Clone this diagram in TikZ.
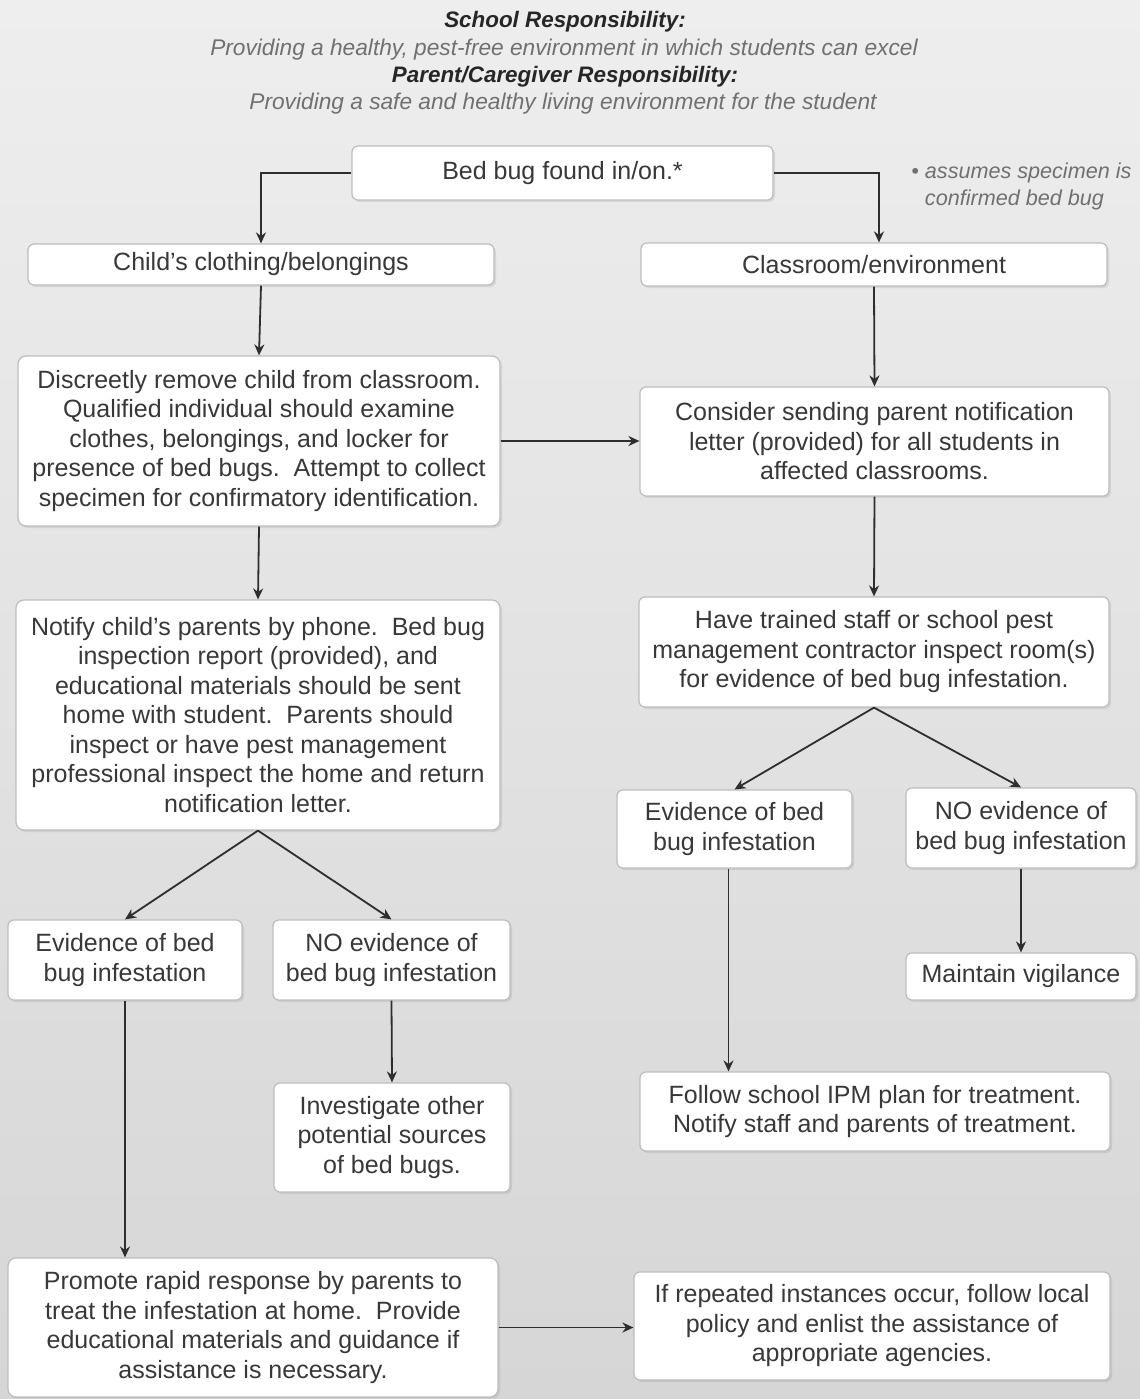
\documentclass[tikz,border=0pt]{standalone}
\usepackage{fontspec}
\setmainfont{Liberation Sans}
\usetikzlibrary{arrows.meta,shadows}
\definecolor{bgtop}{HTML}{EEEEEE}
\definecolor{bgbot}{HTML}{D6D6D6}
\definecolor{boxline}{HTML}{BDBDBD}
\definecolor{txt}{HTML}{383838}
\definecolor{subtxt}{HTML}{707070}
\definecolor{arrowcol}{HTML}{2E2E2E}
\begin{document}
\begin{tikzpicture}[x=0.5pt,y=-0.5pt,
  flowbox/.style={draw=boxline, line width=0.6pt, fill=white, rounded corners=3pt,
    align=center, inner sep=0pt, text=txt,
    font=\fontsize{12.5}{14.75}\selectfont,
    drop shadow={opacity=0.18, shadow xshift=1pt, shadow yshift=-1pt}},
  flowarrow/.style={draw=arrowcol, line width=0.9pt, -{Stealth[length=5.5pt,width=5pt]}},
  headbold/.style={font=\fontsize{11.2}{13}\selectfont\bfseries\itshape, text=black!85},
  headsub/.style={font=\fontsize{11.35}{13}\selectfont\itshape, text=subtxt}
]
\useasboundingbox (0,0) rectangle (1140,1399);
\shade[top color=bgtop, bottom color=bgbot] (0,0) rectangle (1140,1399);

% header
\node[headbold] (h1) at (565,22) {School Responsibility:};
\node[headsub] (h2) at (564,50) {Providing a healthy, pest-free environment in which students can excel};
\node[headbold] (h3) at (565,77) {Parent/Caregiver Responsibility:};
\node[headsub] (h4) at (563,104) {Providing a safe and healthy living environment for the student};

% note
\node[font=\fontsize{10.8}{13.5}\selectfont\itshape, text=subtxt, align=left, anchor=west, inner sep=0pt]
  (note) at (911,186) {\textbullet\ assumes specimen is\\\hphantom{\textbullet\ }confirmed bed bug};

% boxes
\node[flowbox, minimum width=210.5pt, minimum height=27pt] (bed) at (562.5,173) {Bed bug found in/on.*};
\node[flowbox, minimum width=233pt, minimum height=20.5pt] (child) at (261,264.5) {Child's clothing/belongings};
\node[flowbox, minimum width=233pt, minimum height=21.5pt] (class) at (874,264.5) {Classroom/environment};
\node[flowbox, rounded corners=4pt, minimum width=241pt, minimum height=85pt] (disc) at (259,441)
  {Discreetly remove child from classroom.\\Qualified individual should examine\\clothes, belongings, and locker for\\presence of bed bugs.\ \ Attempt to collect\\specimen for confirmatory identification.};
\node[flowbox, minimum width=234.5pt, minimum height=54.5pt] (cons) at (874.5,441.5)
  {Consider sending parent notification\\letter (provided) for all students in\\affected classrooms.};
\node[flowbox, rounded corners=4pt, minimum width=242pt, minimum height=115pt] (notify) at (258,715)
  {Notify child's parents by phone.\ \ Bed bug\\inspection report (provided), and\\educational materials should be sent\\home with student.\ \ Parents should\\inspect or have pest management\\professional inspect the home and return\\notification letter.};
\node[flowbox, minimum width=235pt, minimum height=55pt] (have) at (874,652)
  {Have trained staff or school pest\\management contractor inspect room(s)\\for evidence of bed bug infestation.};
\node[flowbox, minimum width=117pt, minimum height=40pt] (evL) at (125,960) {Evidence of bed\\bug infestation};
\node[flowbox, minimum width=118.5pt, minimum height=40pt] (noL) at (391.5,960) {NO evidence of\\bed bug infestation};
\node[flowbox, minimum width=117.5pt, minimum height=39pt] (evR) at (734.5,829) {Evidence of bed\\bug infestation};
\node[flowbox, minimum width=115pt, minimum height=40pt] (noR) at (1021,828) {NO evidence of\\bed bug infestation};
\node[flowbox, minimum width=115pt, minimum height=23.5pt] (maint) at (1021,976.5) {Maintain vigilance};
\node[flowbox, minimum width=118pt, minimum height=54.5pt] (inv) at (392,1137.5) {Investigate other\\potential sources\\of bed bugs.};
\node[flowbox, minimum width=235pt, minimum height=39.5pt] (follow) at (875,1111.5)
  {Follow school IPM plan for treatment.\\Notify staff and parents of treatment.};
\node[flowbox, rounded corners=4pt, minimum width=245pt, minimum height=69.5pt] (promote) at (253,1327.5)
  {Promote rapid response by parents to\\treat the infestation at home.\ \ Provide\\educational materials and guidance if\\assistance is necessary.};
\node[flowbox, minimum width=238pt, minimum height=54pt] (repeat) at (872,1326)
  {If repeated instances occur, follow local\\policy and enlist the assistance of\\appropriate agencies.};

% connectors
\draw[flowarrow] (bed.west) -| (child.north);
\draw[flowarrow] (bed.east) -| ([xshift=2.5pt]class.north);
\draw[flowarrow] (child.south) -- (disc.north);
\draw[flowarrow] (class.south) -- (cons.north);
\draw[flowarrow] (disc.east) -- (disc.east -| cons.west);
\draw[flowarrow] (disc.south) -- (notify.north);
\draw[flowarrow] (cons.south) -- (have.north);
\draw[flowarrow] (have.south) -- (evR.north);
\draw[flowarrow] (have.south) -- (noR.north);
\draw[flowarrow] (noR.south) -- (maint.north);
\draw[flowarrow] ([xshift=-3pt]evR.south) -- ([xshift=-3pt]evR.south |- follow.north);
\draw[flowarrow] (notify.south) -- (evL.north);
\draw[flowarrow] (notify.south) -- (noL.north);
\draw[flowarrow] (noL.south) -- (inv.north);
\draw[flowarrow] (evL.south) -- (evL.south |- promote.north);
\draw[flowarrow] (promote.east) -- (promote.east -| repeat.west);
\end{tikzpicture}
\end{document}
